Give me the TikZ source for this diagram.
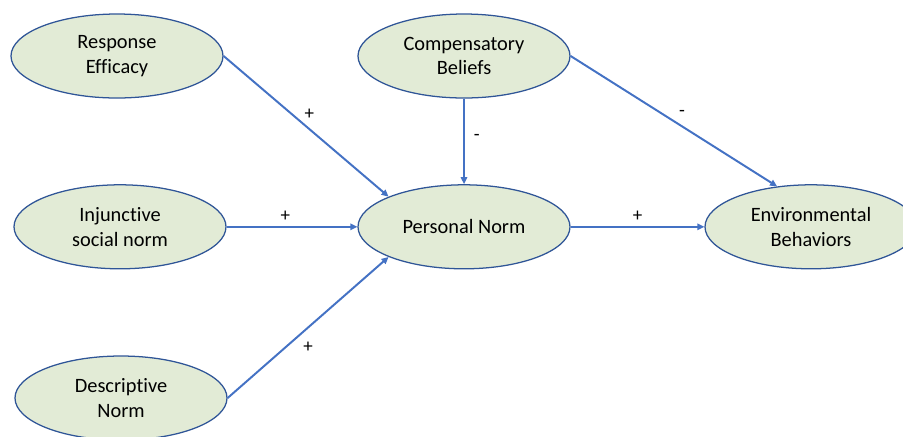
\documentclass[tikz,border=0pt]{standalone}
\usepackage{fontspec}
\setmainfont{Carlito}[Ligatures=NoCommon]
\usepackage{tikz}
\usetikzlibrary{arrows.meta,positioning,shapes.geometric}
\definecolor{nodegreen}{RGB}{226,235,214}
\definecolor{nodeblue}{RGB}{47,85,151}
\definecolor{linkblue}{RGB}{68,114,196}

\begin{document}
\begin{tikzpicture}[
  cbox/.style={ellipse,draw=nodeblue,line width=0.9pt,fill=nodegreen,
               minimum width=5.3cm,minimum height=2.1cm,align=center,
               font=\fontsize{14.5}{17.5}\selectfont},
  link/.style={-{Triangle[length=5pt,width=4.5pt]},line width=1.4pt,linkblue},
  sign/.style={font=\fontsize{13.5}{15}\selectfont,text=black}]
  \useasboundingbox (0,0) rectangle (22.575,-10.9);
  \node[cbox] (re) at (2.925,-1.4) {Response\\Efficacy};
  \node[cbox] (cb) at (11.6,-1.4) {Compensatory\\Beliefs};
  \node[cbox] (is) at (3.0,-5.67) {Injunctive\\social norm};
  \node[cbox] (pn) at (11.6,-5.67) {Personal Norm};
  \node[cbox] (eb) at (20.275,-5.67) {Environmental\\Behaviors};
  \node[cbox] (dn) at (3.025,-9.95) {Descriptive\\Norm};
  \draw[link] (re.east) -- node[sign,pos=0.52,above=3pt] {+} (pn.north west);
  \draw[link] (cb.south) -- node[sign,pos=0.45,right=3pt] {-} (pn.north);
  \draw[link] (cb.east) -- node[sign,pos=0.54,above=3pt] {-} (eb.130);
  \draw[link] (is.east) -- node[sign,pos=0.45,above] {+} (pn.west);
  \draw[link] (dn.east) -- node[sign,pos=0.5,below=6pt] {+} (pn.south west);
  \draw[link] (pn.east) -- node[sign,pos=0.5,above] {+} (eb.west);
\end{tikzpicture}
\end{document}
